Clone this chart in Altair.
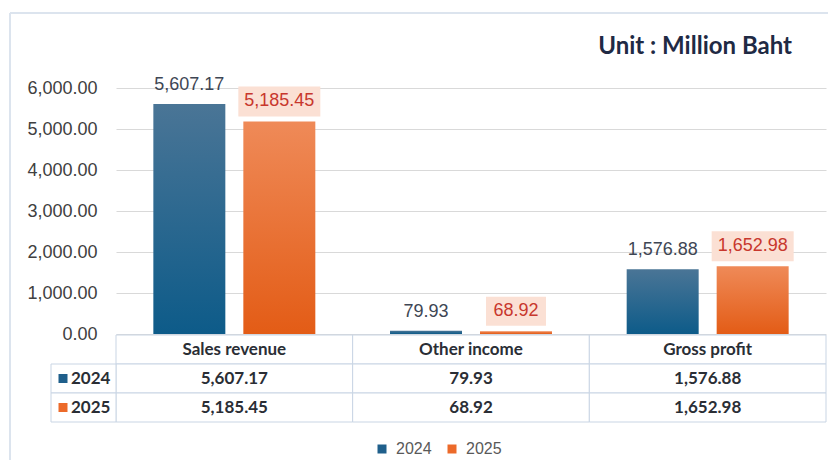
import altair as alt
import pandas as pd

categories = ["Sales revenue", "Other income", "Gross profit"]
years = ["2024", "2025"]
values_2024 = [5607.17, 79.93, 1576.88]
values_2025 = [5185.45, 68.92, 1652.98]
y_ticks = [0, 1000, 2000, 3000, 4000, 5000, 6000]
title_text = "Unit : Million Baht"
series_colors = ["#1f5f8b", "#ec6a2a"]

rows = []
for c, v in zip(categories, values_2024):
    rows.append({"category": c, "year": "2024", "value": v})
for c, v in zip(categories, values_2025):
    rows.append({"category": c, "year": "2025", "value": v})
df = pd.DataFrame(rows)
df["label"] = df["value"].map(lambda v: f"{v:,.2f}")
df["is_long"] = df["label"].str.len() > 6

# ---------- top chart ----------
x_enc = alt.X("category:N", sort=categories,
              scale=alt.Scale(domain=categories, paddingInner=0, paddingOuter=0),
              axis=None)
xoff = alt.XOffset("year:N", scale=alt.Scale(domain=years, paddingInner=0.2, paddingOuter=0.415))
y_enc = alt.Y("value:Q", scale=alt.Scale(domain=[0, 6000], nice=False),
              axis=alt.Axis(values=y_ticks, format=",.2f", title=None, domain=False,
                            ticks=False, labelPadding=19, labelFont="Liberation Sans",
                            labelFontSize=18, labelColor="#404040",
                            gridColor="#d9d9d9", gridWidth=1))

base = alt.Chart(df).encode(x=x_enc, xOffset=xoff, y=y_enc)

blue_grad = alt.LinearGradient(gradient="linear",
                               stops=[alt.GradientStop(color="#4a7596", offset=0),
                                      alt.GradientStop(color="#0d5b89", offset=1)],
                               x1=0, x2=0, y1=0, y2=1)
orange_grad = alt.LinearGradient(gradient="linear",
                                 stops=[alt.GradientStop(color="#ef8a58", offset=0),
                                        alt.GradientStop(color="#e35c16", offset=1)],
                                 x1=0, x2=0, y1=0, y2=1)

is24 = alt.datum.year == "2024"
is25 = alt.datum.year == "2025"

bars24 = base.transform_filter(is24).mark_bar(fill=blue_grad)
bars25 = base.transform_filter(is25).mark_bar(fill=orange_grad)

box_long = base.transform_filter(is25 & alt.datum.is_long).mark_point(
    shape="M-1,-0.366L1,-0.366L1,0.366L-1,0.366Z", size=6724, filled=True,
    fill="#fbe0d4", opacity=1, strokeWidth=0, yOffset=-20)
box_short = base.transform_filter(is25 & ~alt.datum.is_long).mark_point(
    shape="M-1,-0.483L1,-0.483L1,0.483L-1,0.483Z", size=3600, filled=True,
    fill="#fbe0d4", opacity=1, strokeWidth=0, yOffset=-20)

lab24 = base.transform_filter(is24).mark_text(
    dy=-19, font="Liberation Sans", fontSize=18, color="#3e4654").encode(text="label:N")
lab25 = base.transform_filter(is25).mark_text(
    dy=-20, font="Liberation Sans", fontSize=18, color="#c8372d").encode(text="label:N")

top = alt.layer(bars24, bars25, box_long, box_short, lab24, lab25).properties(
    width=710, height=246,
    title=alt.TitleParams(title_text, anchor="end", frame="group", font="Lato",
                          fontSize=24, fontWeight="bold", color="#1f2a44",
                          dx=-34, offset=17))

# ---------- table chart ----------
header_df = pd.DataFrame({"category": categories, "row": "Header", "text": categories})
value_df = df[["category", "year", "label"]].rename(columns={"year": "row", "label": "text"})
cells_df = pd.concat([header_df, value_df], ignore_index=True)
year_df = pd.DataFrame({"row": years})
frame_df = pd.DataFrame({"k": [0]})

tx = alt.X("category:N", sort=categories,
           scale=alt.Scale(domain=categories, paddingInner=0, paddingOuter=0), axis=None)
ty = alt.Y("row:N", scale=alt.Scale(domain=["Header"] + years, paddingInner=0, paddingOuter=0),
           axis=None)

grid_col = "#c9d5e4"
cells = alt.Chart(cells_df).mark_rect(fill="white", stroke=grid_col, strokeWidth=1).encode(x=tx, y=ty)
cell_text = alt.Chart(cells_df).mark_text(font="Lato", fontSize=17, fontWeight="bold",
                                          color="#2a2e35").encode(x=tx, y=ty, text="text:N")
left_cells = alt.Chart(year_df).mark_rect(fill="white", stroke=grid_col, strokeWidth=1).encode(
    x=alt.value(-65), x2=alt.value(0), y=ty)
squares = alt.Chart(year_df).mark_square(size=81, opacity=1).encode(
    x=alt.value(-53), y=ty,
    color=alt.Color("row:N", scale=alt.Scale(domain=years, range=series_colors),
                    legend=alt.Legend(orient="none", legendX=258, legendY=106,
                                      direction="horizontal", title=None,
                                      symbolType="square", symbolSize=81,
                                      labelFont="Liberation Sans", labelFontSize=16,
                                      labelColor="#595959", columnPadding=12,
                                      labelOffset=6, symbolStrokeWidth=0)))
year_text = alt.Chart(year_df).mark_text(align="left", font="Lato", fontSize=17,
                                         fontWeight="bold", color="#2a2e35").encode(
    x=alt.value(-45), y=ty, text="row:N")

frame_top = alt.Chart(frame_df).mark_rule(stroke="#dce4ee", strokeWidth=2).encode(
    x=alt.value(-106), x2=alt.value(712), y=alt.value(-322))
frame_left = alt.Chart(frame_df).mark_rule(stroke="#dce4ee", strokeWidth=2).encode(
    x=alt.value(-106), y=alt.value(-322), y2=alt.value(125))

table = alt.layer(frame_top, frame_left, cells, left_cells, cell_text, squares, year_text).properties(
    width=710, height=87)

chart = alt.vconcat(top, table, spacing=1, bounds="flush").resolve_scale(
    x="independent", color="independent").resolve_legend(color="independent").properties(
    padding={"left": 1, "top": 4, "right": 0, "bottom": 0}
).configure_view(stroke=None)

chart.save("out.html", embed_options={"renderer": "svg", "actions": False})
